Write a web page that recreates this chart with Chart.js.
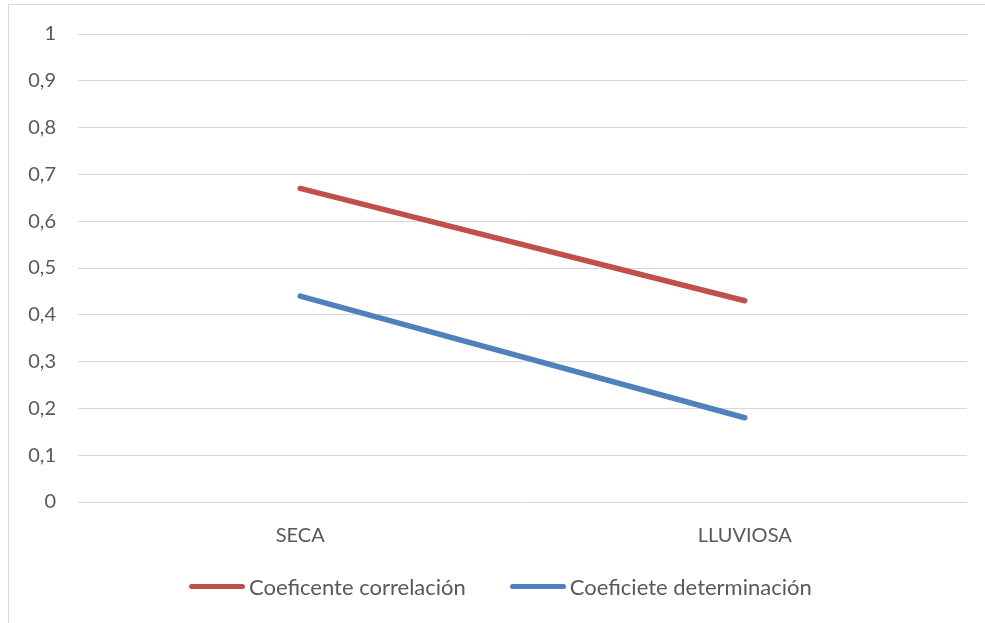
<!DOCTYPE html>
<html>
<head>
<meta charset="utf-8">
<script src="https://cdn.jsdelivr.net/npm/chart.js@4/dist/chart.umd.min.js"></script>
<style>
  html, body { margin: 0; padding: 0; background: #fff; overflow: hidden; }
  #frame {
    position: absolute; left: 8px; top: 4px; width: 1000px; height: 640px;
    border-left: 1px solid #d9d9d9; border-top: 1px solid #d9d9d9;
  }
  #wrap { position: absolute; left: 0; top: 0; width: 985px; height: 623px; }
  #legend {
    position: absolute; left: 189px; top: 571px; height: 30px;
    display: flex; align-items: center;
    font-family: Lato, "Open Sans", sans-serif; font-size: 22px; color: #595959;
  }
  #legend .item { display: flex; align-items: center; margin-right: 44px; }
  #legend .swatch { width: 56px; height: 5px; border-radius: 3px; margin-right: 4px; }
</style>
</head>
<body>
<div id="frame"></div>
<div id="wrap"><canvas id="lineChart"></canvas></div>
<div id="legend"></div>
<script>
const categories = ['SECA', 'LLUVIOSA'];
const correlacion = [0.67, 0.43];
const determinacion = [0.44, 0.18];
const yTicks = [0, 0.1, 0.2, 0.3, 0.4, 0.5, 0.6, 0.7, 0.8, 0.9, 1];

const textColor = '#595959';
const gridColor = '#d9d9d9';
const fontFamily = 'Lato, "Open Sans", sans-serif';

const chart = new Chart(document.getElementById('lineChart'), {
  type: 'line',
  data: {
    labels: categories,
    datasets: [{
      label: 'Coeficente correlación',
      data: correlacion,
      borderColor: '#c0504d',
      backgroundColor: '#c0504d',
      borderWidth: 5.5,
      borderCapStyle: 'round',
      pointRadius: 0,
      tension: 0
    }, {
      label: 'Coeficiete determinación',
      data: determinacion,
      borderColor: '#4f81bd',
      backgroundColor: '#4f81bd',
      borderWidth: 5.5,
      borderCapStyle: 'round',
      pointRadius: 0,
      tension: 0
    }]
  },
  options: {
    responsive: true,
    maintainAspectRatio: false,
    animation: false,
    layout: { padding: { top: 28, right: 18, left: 0, bottom: 67 } },
    plugins: {
      tooltip: { enabled: false },
      legend: { display: false }
    },
    scales: {
      x: {
        offset: true,
        grid: { display: false },
        border: { display: false },
        ticks: { color: textColor, padding: 14, font: { family: fontFamily, size: 20 } },
        afterFit: (scale) => { scale.height = 54; }
      },
      y: {
        min: 0,
        max: 1,
        afterBuildTicks: (scale) => { scale.ticks = yTicks.map(v => ({ value: v })); },
        grid: { color: gridColor, lineWidth: 1, drawTicks: false },
        border: { display: false },
        ticks: {
          color: textColor,
          padding: 22,
          font: { family: fontFamily, size: 20 },
          callback: (v) => String(Math.round(v * 10) / 10).replace('.', ',')
        },
        afterFit: (scale) => { scale.width = 78; }
      }
    }
  }
});

// html legend built from the dataset colours and labels
const legendEl = document.getElementById('legend');
chart.data.datasets.forEach((ds) => {
  const item = document.createElement('div');
  item.className = 'item';
  const swatch = document.createElement('span');
  swatch.className = 'swatch';
  swatch.style.background = ds.borderColor;
  const text = document.createElement('span');
  text.textContent = ds.label;
  item.appendChild(swatch);
  item.appendChild(text);
  legendEl.appendChild(item);
});
</script>
</body>
</html>
